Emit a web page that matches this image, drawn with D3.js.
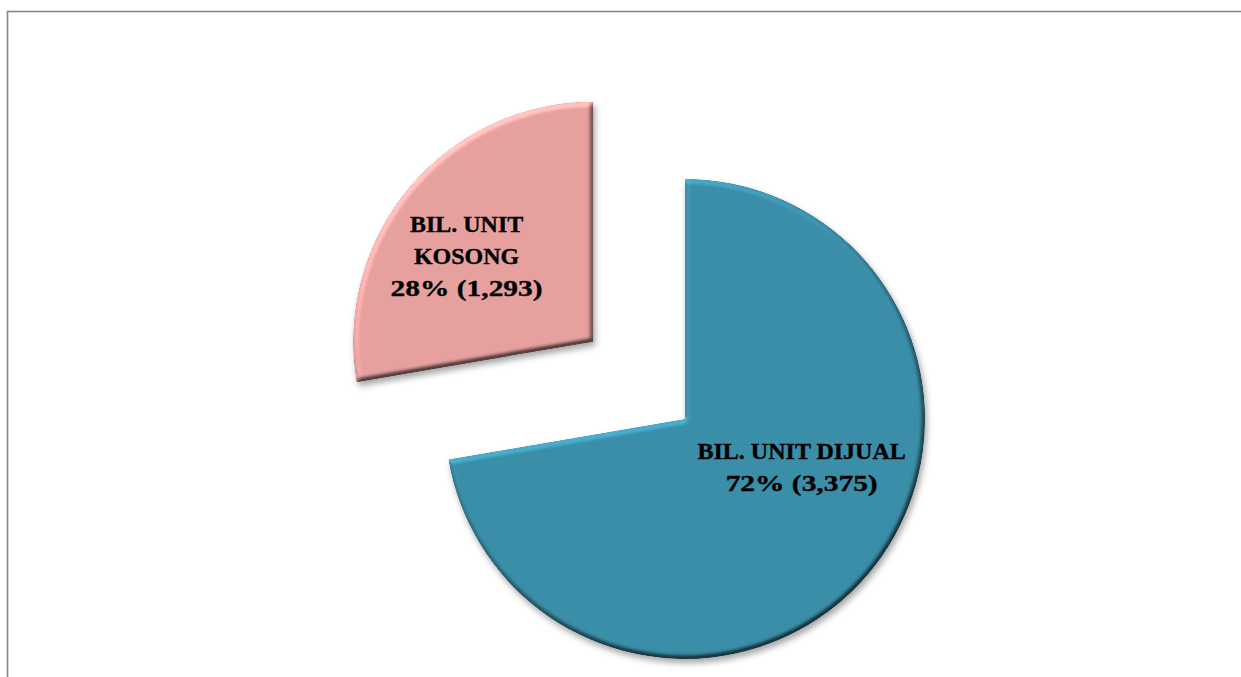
<!DOCTYPE html>
<html>
<head>
  <meta charset="utf-8">
  <title>Bil. Unit</title>
  <script src="https://d3js.org/d3.v7.min.js"></script>
  <style>
    body { margin: 0; background: #fff; }
  </style>
</head>
<body>
  <svg width="1241" height="677"></svg>
  <script>
  // Data
  var categories = ["BIL. UNIT DIJUAL", "BIL. UNIT KOSONG"];
  var labelLines = [["BIL. UNIT DIJUAL"], ["BIL. UNIT", "KOSONG"]];
  var units = [3375, 1293];
  var percents = [72, 28];
  var colors = ["#3a8ea8", "#e6a19f"];

  // layout
  var cx = 685, cy = 419, radius = 240;
  var explode = [0, 120];
  var labelRadius = 150;
  var labelNudge = [[2, -49], [-12, 11]];
  var lineHeight = 32;
  var numberWidth = 152; // source font has wider digits

  var svg = d3.select("svg");

  // chart frame (cut off at right and bottom like the source)
  svg.append("rect")
    .attr("x", 7.5).attr("y", 11.5)
    .attr("width", 1260).attr("height", 700)
    .attr("fill", "none")
    .attr("stroke", "#878787")
    .attr("stroke-width", 1.6);

  // bevel + drop shadow filter
  var defs = svg.append("defs");
  var f = defs.append("filter").attr("id", "bevel")
    .attr("x", "-10%").attr("y", "-10%").attr("width", "125%").attr("height", "125%")
    .attr("color-interpolation-filters", "sRGB");
  f.append("feGaussianBlur").attr("in", "SourceAlpha").attr("stdDeviation", 2.8).attr("result", "blur");
  f.append("feDiffuseLighting").attr("in", "blur").attr("surfaceScale", 4.5)
    .attr("diffuseConstant", 1).attr("lighting-color", "#fff").attr("result", "light")
    .append("feDistantLight").attr("azimuth", 240).attr("elevation", 45);
  f.append("feComposite").attr("in", "SourceGraphic").attr("in2", "light")
    .attr("operator", "arithmetic")
    .attr("k1", 0.85).attr("k2", 0.4).attr("k3", 0).attr("k4", 0).attr("result", "lit");
  f.append("feComposite").attr("in", "lit").attr("in2", "SourceAlpha").attr("operator", "in").attr("result", "shape");
  f.append("feGaussianBlur").attr("in", "SourceAlpha").attr("stdDeviation", 3).attr("result", "sb");
  f.append("feOffset").attr("in", "sb").attr("dx", 2).attr("dy", 4).attr("result", "so");
  f.append("feFlood").attr("flood-color", "#000").attr("flood-opacity", 0.35);
  f.append("feComposite").attr("in2", "so").attr("operator", "in").attr("result", "shadow");
  var m = f.append("feMerge");
  m.append("feMergeNode").attr("in", "shadow");
  m.append("feMergeNode").attr("in", "shape");

  var pie = d3.pie().sort(null).value(function(d) { return d; });
  var arcs = pie(units);
  var arc = d3.arc().innerRadius(0).outerRadius(radius);
  var labelArc = d3.arc().innerRadius(labelRadius).outerRadius(labelRadius);

  function shift(d, i) {
    var a = (d.startAngle + d.endAngle) / 2;
    return [cx + explode[i] * Math.sin(a), cy - explode[i] * Math.cos(a)];
  }

  var g = svg.append("g");

  g.selectAll("path").data(arcs).enter()
    .append("path")
    .attr("transform", function(d, i) { var p = shift(d, i); return "translate(" + p[0] + "," + p[1] + ")"; })
    .attr("d", arc)
    .attr("fill", function(d, i) { return colors[i]; })
    .attr("filter", "url(#bevel)");

  var fmt = d3.format(",");

  var labels = svg.selectAll("text.lbl").data(arcs).enter()
    .append("text")
    .attr("class", "lbl")
    .attr("text-anchor", "middle")
    .style("font-family", "'Liberation Serif', 'Times New Roman', serif")
    .style("font-weight", "bold")
    .style("font-size", "24px")
    .attr("fill", "#000")
    .attr("stroke", "#000")
    .attr("stroke-width", 0.35);

  labels.each(function(d, i) {
    var p = shift(d, i);
    var c = labelArc.centroid(d);
    var x = p[0] + c[0] + labelNudge[i][0];
    var yc = p[1] + c[1] + labelNudge[i][1];
    var lines = labelLines[i].concat([percents[i] + "% (" + fmt(units[i]) + ")"]);
    var y0 = yc - (lines.length - 1) * lineHeight / 2 + 8;
    var t = d3.select(this);
    lines.forEach(function(s, k) {
      var ts = t.append("tspan").attr("x", x).attr("y", y0 + k * lineHeight).text(s);
      if (k === lines.length - 1) {
        ts.attr("textLength", numberWidth).attr("lengthAdjust", "spacingAndGlyphs");
      }
    });
  });
  </script>
</body>
</html>
